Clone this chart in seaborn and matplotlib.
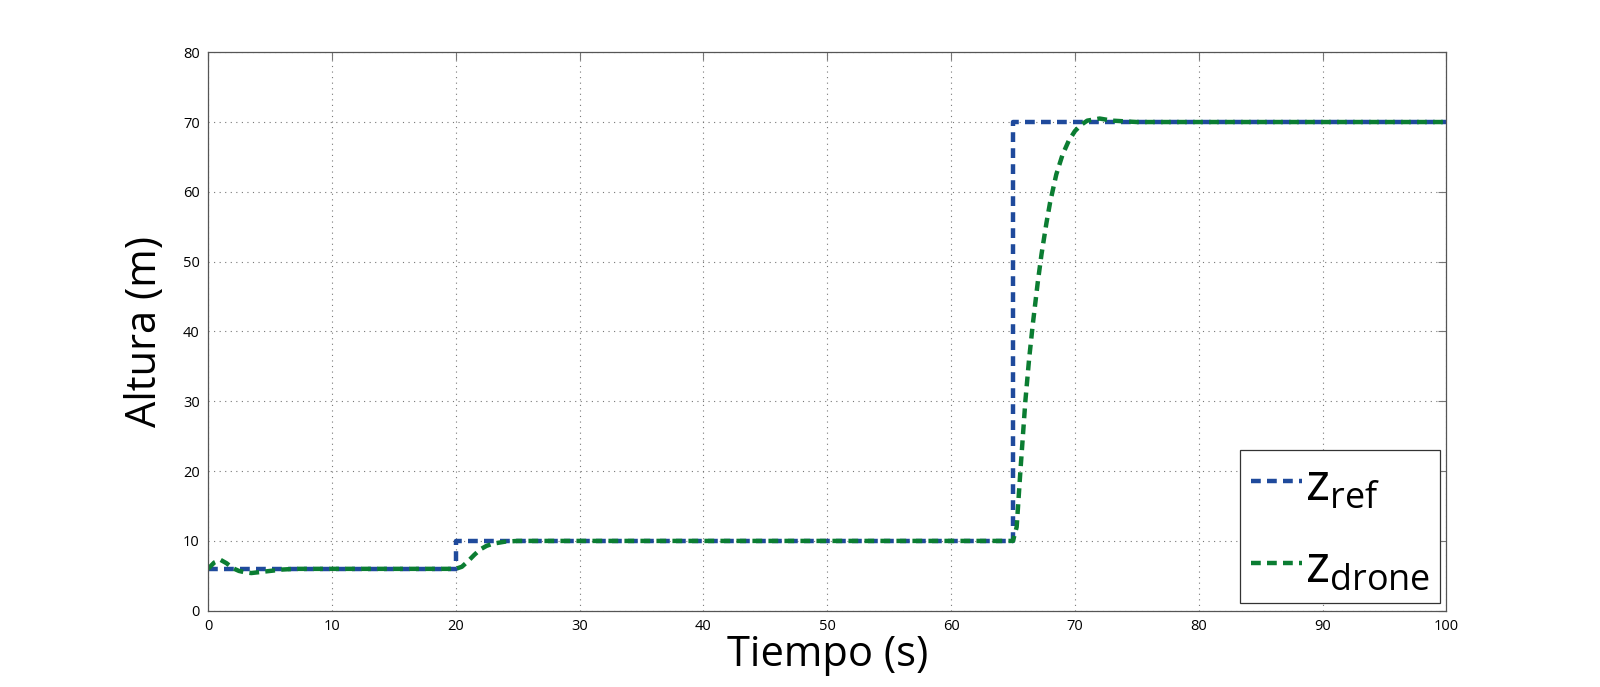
import matplotlib
matplotlib.use("Agg")
import matplotlib.pyplot as plt
from matplotlib.lines import Line2D
import seaborn as sns
import pandas as pd

# referencia (escalones)
t_ref = [0, 20, 20, 65, 65, 100]
z_ref = [6, 6, 10, 10, 70, 70]

# respuesta del drone
t_drone = [0, 0.5, 1, 1.5, 2, 2.5, 3, 3.5, 4, 5, 6, 7, 8, 10, 15, 20, 20.5, 21, 21.5, 22, 22.5, 23, 24, 25, 30,
           40, 50, 60, 65, 65.3, 65.6, 66, 66.3, 66.6, 67, 67.3, 67.7, 68, 68.5, 69, 69.5, 70, 70.5, 71, 72, 73,
           75, 80, 90, 100]
z_drone = [6.0, 6.9, 7.3, 6.8, 6.1, 5.7, 5.5, 5.4, 5.5, 5.7, 5.9, 6.0, 6.0, 6.0, 6.0, 6.0, 6.3, 7.1, 8.0, 8.8,
           9.3, 9.6, 9.9, 10.0, 10.0, 10.0, 10.0, 10.0, 10.0, 12, 20, 30, 36, 41, 47, 51, 55.5, 58.5, 62.5, 65.3,
           67.3, 68.7, 69.6, 70.2, 70.5, 70.2, 70.0, 70.0, 70.0, 70.0]

BLUE = "#1f4a9c"
GREEN = "#0b7d32"
DASH = (0, (2.2, 1.4))

df = pd.concat([
    pd.DataFrame({"t": t_ref, "z": z_ref, "serie": "ref"}),
    pd.DataFrame({"t": t_drone, "z": z_drone, "serie": "drone"}),
])

sns.set_style("white")
plt.rcParams["font.family"] = ["Open Sans", "DejaVu Sans"]
plt.rcParams["mathtext.default"] = "regular"
plt.rcParams["text.color"] = "black"
plt.rcParams["axes.labelcolor"] = "black"
plt.rcParams["xtick.color"] = "black"
plt.rcParams["ytick.color"] = "black"

fig = plt.figure(figsize=(16, 6.87), dpi=100)
ax = fig.add_axes([0.130, 0.111, 0.774, 0.813])

sns.lineplot(data=df, x="t", y="z", hue="serie", palette={"ref": BLUE, "drone": GREEN},
             sort=False, estimator=None, linewidth=3.2, legend=False, ax=ax)
for line in ax.get_lines():
    line.set_linestyle(DASH)

ax.set_xlim(0, 100)
ax.set_ylim(0, 80)
ax.set_xticks(range(0, 101, 10))
ax.set_yticks(range(0, 81, 10))
ax.grid(True, linestyle=(0, (1, 4)), color="#777777", linewidth=0.8)
ax.tick_params(direction="in", length=6, width=0.8, labelsize=10.5,
               top=True, right=True, pad=6)
ax.tick_params(color="#777777")
for sp in ax.spines.values():
    sp.set_color("#555555")
    sp.set_linewidth(0.9)

ax.set_xlabel("Tiempo (s)", fontsize=30, labelpad=0)
ax.set_ylabel("Altura (m)", fontsize=30, labelpad=12)

handles = [Line2D([], [], color=BLUE, linewidth=3.2, linestyle=DASH),
           Line2D([], [], color=GREEN, linewidth=3.2, linestyle=DASH)]
leg = ax.legend(handles, ["z$_{ref}$", "z$_{drone}$"], loc="lower right", fontsize=37,
                handlelength=1.0, handletextpad=0.05, borderpad=0.2, labelspacing=0.6,
                borderaxespad=0, fancybox=False, framealpha=1, edgecolor="#333333",
                bbox_to_anchor=(0.995, 0.013))
leg.get_frame().set_linewidth(0.9)

fig.savefig("out.png", dpi=100)
